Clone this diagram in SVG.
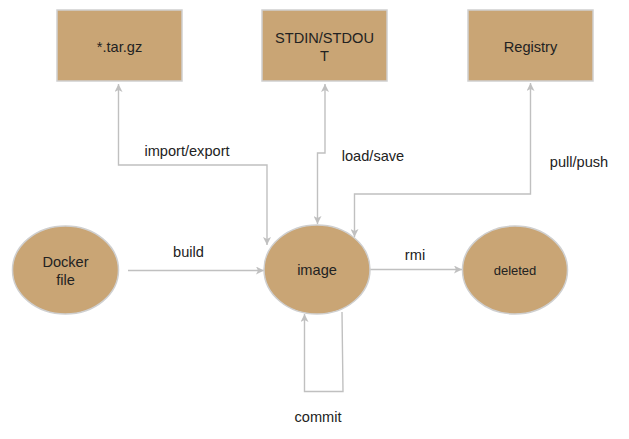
<svg xmlns="http://www.w3.org/2000/svg" width="629" height="439" viewBox="0 0 629 439">
<style>
.node{fill:#c9a575;stroke:#cfcfcf;stroke-width:1.5}
.t{font-family:"Liberation Sans",Arial,sans-serif;font-size:14.6px;fill:#222;text-anchor:middle}
.s{font-size:13px}
.c{fill:none;stroke:#c0c0c0;stroke-width:1.4}
</style>
<defs>
<marker id="ah" viewBox="0 0 10 10" refX="10" refY="5" markerWidth="9" markerHeight="8" markerUnits="userSpaceOnUse" orient="auto-start-reverse">
<path d="M0,0 L10,5 L0,10 L2.5,5 z" fill="#c0c0c0"/>
</marker>
</defs>
<rect width="629" height="439" fill="#fff"/>
<g id="connectors">
<path class="c" d="M118.5,84 V165 H267 V245" marker-start="url(#ah)" marker-end="url(#ah)"/>
<path class="c" d="M325,84 V153 H317.5 V224" marker-start="url(#ah)" marker-end="url(#ah)"/>
<path class="c" d="M530.5,83 V194 H354.5 V237" marker-start="url(#ah)" marker-end="url(#ah)"/>
<path class="c" d="M128,270.5 H264" marker-end="url(#ah)"/>
<path class="c" d="M370,269.5 H462" marker-end="url(#ah)"/>
<path class="c" d="M342,312 L343,391.5 H304.5 V314" marker-end="url(#ah)"/>
<text class="t" x="187" y="156">import/export</text>
<text class="t" x="373" y="161">load/save</text>
<text class="t" x="579" y="167">pull/push</text>
<text class="t" x="188.5" y="257">build</text>
<text class="t" x="415" y="260">rmi</text>
<text class="t" x="318" y="422">commit</text>
</g>
<g id="tar">
<rect class="node" x="57" y="10" width="125" height="71"/>
<text class="t" x="119.5" y="52">*.tar.gz</text>
</g>
<g id="stdio">
<rect class="node" x="262" y="10" width="125" height="71"/>
<text class="t" x="324.5" y="43">STDIN/STDOU</text>
<text class="t" x="324.5" y="60.5">T</text>
</g>
<g id="registry">
<rect class="node" x="468" y="10" width="125" height="71"/>
<text class="t" x="530.5" y="52">Registry</text>
</g>
<g id="dockerfile">
<ellipse class="node" cx="65.5" cy="270" rx="53" ry="44"/>
<text class="t" x="65.5" y="267">Docker</text>
<text class="t" x="65.5" y="284.5">file</text>
</g>
<g id="image">
<ellipse class="node" cx="317" cy="269.5" rx="53" ry="44.5"/>
<text class="t" x="317" y="274.5">image</text>
</g>
<g id="deleted">
<ellipse class="node" cx="515" cy="270" rx="52.5" ry="44"/>
<text class="t s" x="515" y="274.5">deleted</text>
</g>
</svg>
